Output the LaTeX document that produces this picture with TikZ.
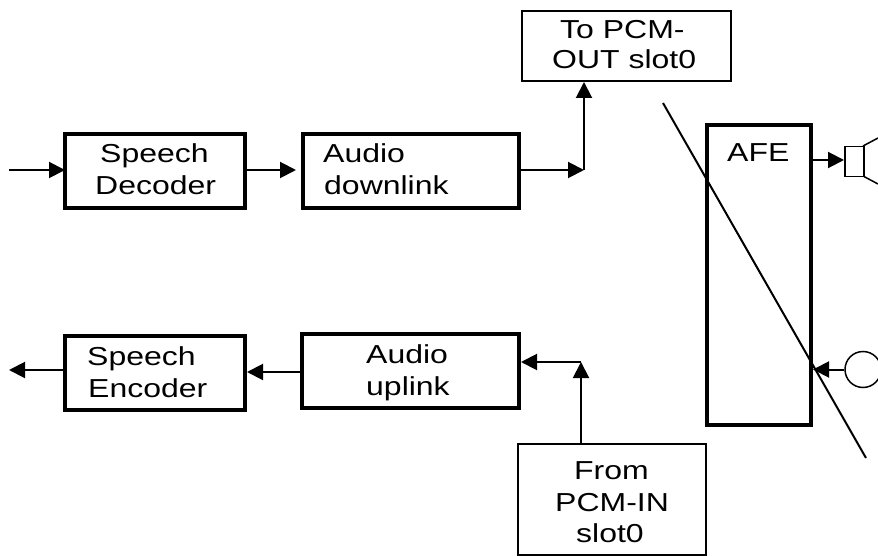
\documentclass[tikz,border=0pt]{standalone}
\usepackage{fontspec}
\setmainfont[FakeStretch=1.23]{Liberation Sans}
\usetikzlibrary{arrows.meta}
\tikzset{
 thick box/.style={draw,line width=4pt,minimum width=#1,inner sep=0pt,anchor=north west},
 thin box/.style={draw,line width=2pt,inner sep=0pt,anchor=north west},
 flow/.style={line width=2pt,-{Triangle[length=16pt,width=16pt]}},
 label text/.style={font=\fontsize{26}{30}\selectfont,anchor=base west,inner sep=0pt},
}
\begin{document}
\begin{tikzpicture}[x=1pt,y=-1pt]
\useasboundingbox (0,0) rectangle (878,556);
\node[thick box=180pt,minimum height=74pt] (dec) at (63,132) {};
\node[thick box=216pt,minimum height=74pt] (down) at (301,132) {};
\node[thin box,minimum width=209pt,minimum height=70pt] (out) at (521,10) {};
\node[thick box=104pt,minimum height=300pt] (afe) at (705,123) {};
\node[thick box=180pt,minimum height=74pt] (enc) at (63,334) {};
\node[thick box=217pt,minimum height=74pt] (up) at (300,332) {};
\node[thin box,minimum width=188pt,minimum height=111pt] (in) at (517,443) {};
\node[draw,line width=1.5pt,minimum width=19pt,minimum height=30pt,inner sep=0pt,anchor=north west] (spk) at (844,146) {};
\node[draw,circle,line width=1.5pt,minimum size=36pt,inner sep=0pt] (mic) at (863,369.5) {};
% labels
\node[label text] (t1) at (100,163) {Speech};
\node[label text] (t2) at (95,195) {Decoder};
\node[label text] (t3) at (323,163) {Audio};
\node[label text] (t4) at (324,195) {downlink};
\node[label text] (t5) at (560,39) {To PCM-};
\node[label text] (t6) at (552,69) {OUT slot0};
\node[label text] (t7) at (727,162) {AFE};
\node[label text] (t8) at (87,365) {Speech};
\node[label text] (t9) at (88,397) {Encoder};
\node[label text] (t10) at (366,363) {Audio};
\node[label text] (t11) at (366,395) {uplink};
\node[label text] (t12) at (574,479) {From};
\node[label text] (t13) at (555,511) {PCM-IN};
\node[label text] (t14) at (576,542) {slot0};
% free ends and junctions
\coordinate (inL) at (9,170);
\coordinate (outL) at (9,370);
\coordinate (j1) at (584,170);
\coordinate (j2) at (581,362);
\coordinate (cone1a) at (863,146);
\coordinate (cone1b) at (878,138);
\coordinate (cone2a) at (863,176);
\coordinate (cone2b) at (878,184);
\coordinate (slashA) at (663,103);
\coordinate (slashB) at (866,458);
% connectors
\draw[flow,shorten >=-2pt] (inL) -- (dec.west |- inL);
\draw[flow,shorten >=5pt] (dec.east |- 0,170) -- (down.west |- 0,170);
\draw[flow] (down.east |- j1) -- (j1);
\draw[flow] (j1) -- (j1 |- out.south);
\draw[flow] (afe.east |- 0,160) -- (spk.west |- 0,160);
\draw[flow] (mic.west) -- (afe.east |- mic.west);
\draw[flow] (enc.west |- outL) -- (outL);
\draw[flow] (up.west |- 0,372) -- (enc.east |- 0,372);
\draw[flow] (j2) -- (up.east |- j2);
\draw[flow] (in.north -| j2) -- (j2);
\draw[line width=1.5pt] (cone1a) -- (cone1b) (cone2a) -- (cone2b);
\draw[line width=2pt] (slashA) -- (slashB);
\end{tikzpicture}
\end{document}
